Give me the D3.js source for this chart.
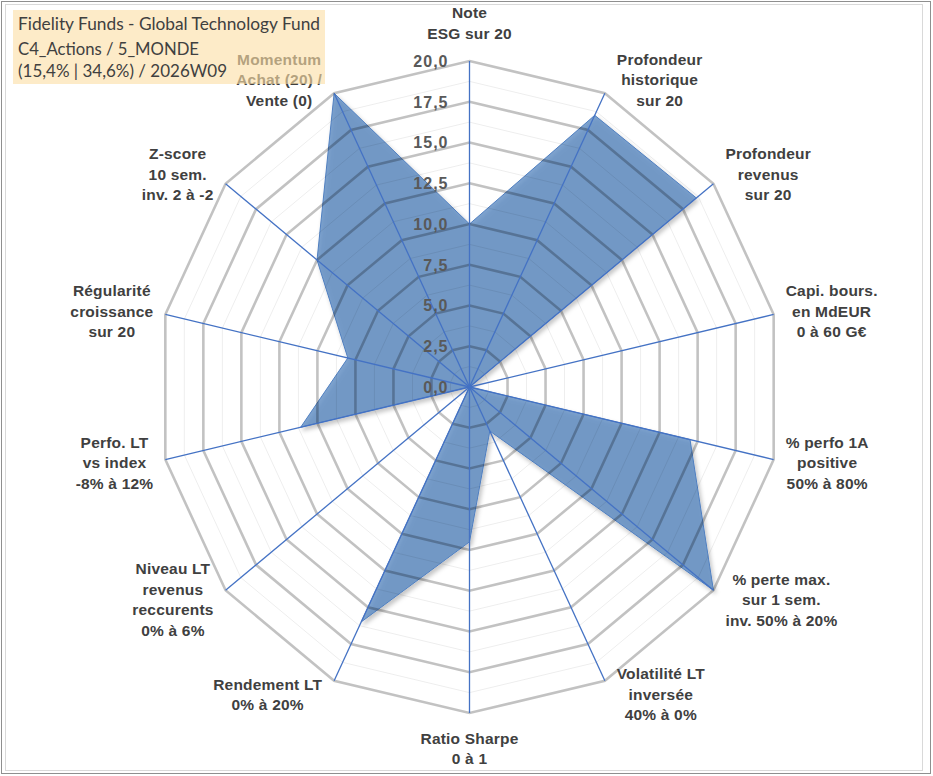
<!DOCTYPE html>
<html><head><meta charset="utf-8">
<script src="https://cdn.jsdelivr.net/npm/d3@7"></script>
<style>
html,body{margin:0;padding:0;background:#fff;}
svg{display:block;}
</style></head>
<body>
<svg id="chart" width="933" height="776"></svg>
<script>
// ---- data ----
const titleLines = ["Fidelity Funds - Global Technology Fund", "C4_Actions / 5_MONDE", "(15,4% | 34,6%) / 2026W09"];
const axisLabels = [
  ["Note", "ESG sur 20"],
  ["Profondeur", "historique", "sur 20"],
  ["Profondeur", "revenus", "sur 20"],
  ["Capi. bours.", "en MdEUR", "0 à 60 G€"],
  ["% perfo 1A", "positive", "50% à 80%"],
  ["% perte max.", "sur 1 sem.", "inv. 50% à 20%"],
  ["Volatilité LT", "inversée", "40% à 0%"],
  ["Ratio Sharpe", "0 à 1"],
  ["Rendement LT", "0% à 20%"],
  ["Niveau LT", "revenus", "reccurents", "0% à 6%"],
  ["Perfo. LT", "vs index", "-8% à 12%"],
  ["Régularité", "croissance", "sur 20"],
  ["Z-score", "10 sem.", "inv. 2 à -2"],
  ["Momentum", "Achat (20) /", "Vente (0)"]
];
const scores = [10, 18.5, 18.6, 0, 14.5, 20, 3, 9.5, 16, 0, 11.1, 8, 12.5, 20];
const tickValues = [0, 2.5, 5, 7.5, 10, 12.5, 15, 17.5, 20];
const minorValues = [1.25, 3.75, 6.25, 8.75, 11.25, 13.75, 16.25, 18.75];

// ---- layout ----
const W = 933, H = 776;
const cx = 469.5, cy = 387;
const rx = 312, ry = 326;
const n = axisLabels.length;
const svg = d3.select("#chart");

const angle = d3.scaleLinear().domain([0, n]).range([0, 2 * Math.PI]);
const rX = d3.scaleLinear().domain([0, 20]).range([0, rx]);
const rY = d3.scaleLinear().domain([0, 20]).range([0, ry]);
const px = (i, v) => cx + rX(v) * Math.sin(angle(i));
const py = (i, v) => cy - rY(v) * Math.cos(angle(i));

const ringPath = v => d3.line()(d3.range(n).map(i => [px(i, v), py(i, v)])) + "Z";

// frame
svg.append("rect").attr("x", 1.5).attr("y", 1.5).attr("width", 929).attr("height", 772)
  .attr("fill", "#fff").attr("stroke", "#8f8f8f").attr("stroke-width", 1);
svg.append("rect").attr("x", 5.5).attr("y", 4.5).attr("width", 917).attr("height", 766)
  .attr("fill", "none").attr("stroke", "#d9d9d9").attr("stroke-width", 1);

// shadow filter
const defs = svg.append("defs");
const f = defs.append("filter").attr("id", "sh").attr("x", "-10%").attr("y", "-10%").attr("width", "130%").attr("height", "130%");
f.append("feDropShadow").attr("dx", 2).attr("dy", 3).attr("stdDeviation", 2.2)
  .attr("flood-color", "#000").attr("flood-opacity", 0.3);

// series area
const areaPts = scores.map((v, i) => [px(i, v), py(i, v)]);
svg.append("path")
  .attr("d", d3.line()(areaPts) + "Z")
  .attr("fill", "#4f81bd").attr("fill-opacity", 0.72)
  .attr("stroke", "#4f7fc0").attr("stroke-width", 1)
  .attr("filter", "url(#sh)");

// minor rings
svg.append("g").selectAll("path").data(minorValues).join("path")
  .attr("d", ringPath).attr("fill", "none")
  .attr("stroke", "#000").attr("stroke-opacity", 0.07).attr("stroke-width", 1);
// major rings
svg.append("g").selectAll("path").data(tickValues.filter(v => v > 0)).join("path")
  .attr("d", ringPath).attr("fill", "none")
  .attr("stroke", "#000").attr("stroke-opacity", 0.24).attr("stroke-width", 2.6)
  .attr("stroke-linejoin", "miter");

// spokes
svg.append("g").selectAll("line").data(d3.range(n)).join("line")
  .attr("x1", cx).attr("y1", cy)
  .attr("x2", i => px(i, 20)).attr("y2", i => py(i, 20))
  .attr("stroke", "#4472c4").attr("stroke-width", 1.3);

// tick labels
const fmt = v => d3.format(".1f")(v).replace(".", ",");
svg.append("g").selectAll("text").data(tickValues).join("text")
  .attr("x", cx - 21).attr("y", v => py(0, v)).attr("dy", "0.36em")
  .attr("text-anchor", "end")
  .attr("font-family", "'Liberation Sans', Arial, sans-serif")
  .attr("font-weight", "bold").attr("font-size", 16)
  .attr("letter-spacing", 1)
  .attr("fill", "#595959")
  .text(fmt);

// axis labels
const lh = 20.5;
const lab = svg.append("g")
  .attr("font-family", "'Liberation Sans', Arial, sans-serif")
  .attr("font-weight", "bold").attr("font-size", 15.5)
  .attr("letter-spacing", 0.2)
  .attr("fill", "#404040");
axisLabels.forEach((lines, i) => {
  const a = angle(i);
  const vx = px(i, 20), vy = py(i, 20);
  const s = Math.sin(a), c = Math.cos(a);
  const t = lab.append("text").attr("text-anchor", "middle");
  const spans = lines.map(l => t.append("tspan").text(l));
  const w = d3.max(spans, sp => sp.node().getComputedTextLength());
  let bx, by; // block center
  const k = lines.length;
  if (Math.abs(s) < 0.01) {
    bx = vx;
    if (c > 0) by = vy - 28 - (k - 1) * lh / 2;
    else by = vy + 25 + (k - 1) * lh / 2;
  } else {
    bx = vx + Math.sign(s) * (w / 2 + 12);
    by = vy - c * 15;
  }
  spans.forEach((sp, j) => {
    sp.attr("x", bx).attr("y", by + (j - (k - 1) / 2) * lh).attr("dy", "0.36em");
  });
});

// title box (semi-transparent, over the labels)
svg.append("rect").attr("x", 13).attr("y", 10).attr("width", 312).attr("height", 74)
  .attr("fill", "rgb(252,223,166)").attr("fill-opacity", 0.62);
const titleBase = [30, 55, 77];
const titleLen = [302, 181, 209];
svg.append("g").selectAll("text").data(titleLines).join("text")
  .attr("x", 18).attr("y", (d, i) => titleBase[i])
  .attr("font-family", "Lato, 'Open Sans', sans-serif").attr("font-size", 17.5)
  .attr("fill", "#404040")
  .attr("textLength", (d, i) => titleLen[i]).attr("lengthAdjust", "spacingAndGlyphs")
  .text(d => d);
</script>
</body></html>
